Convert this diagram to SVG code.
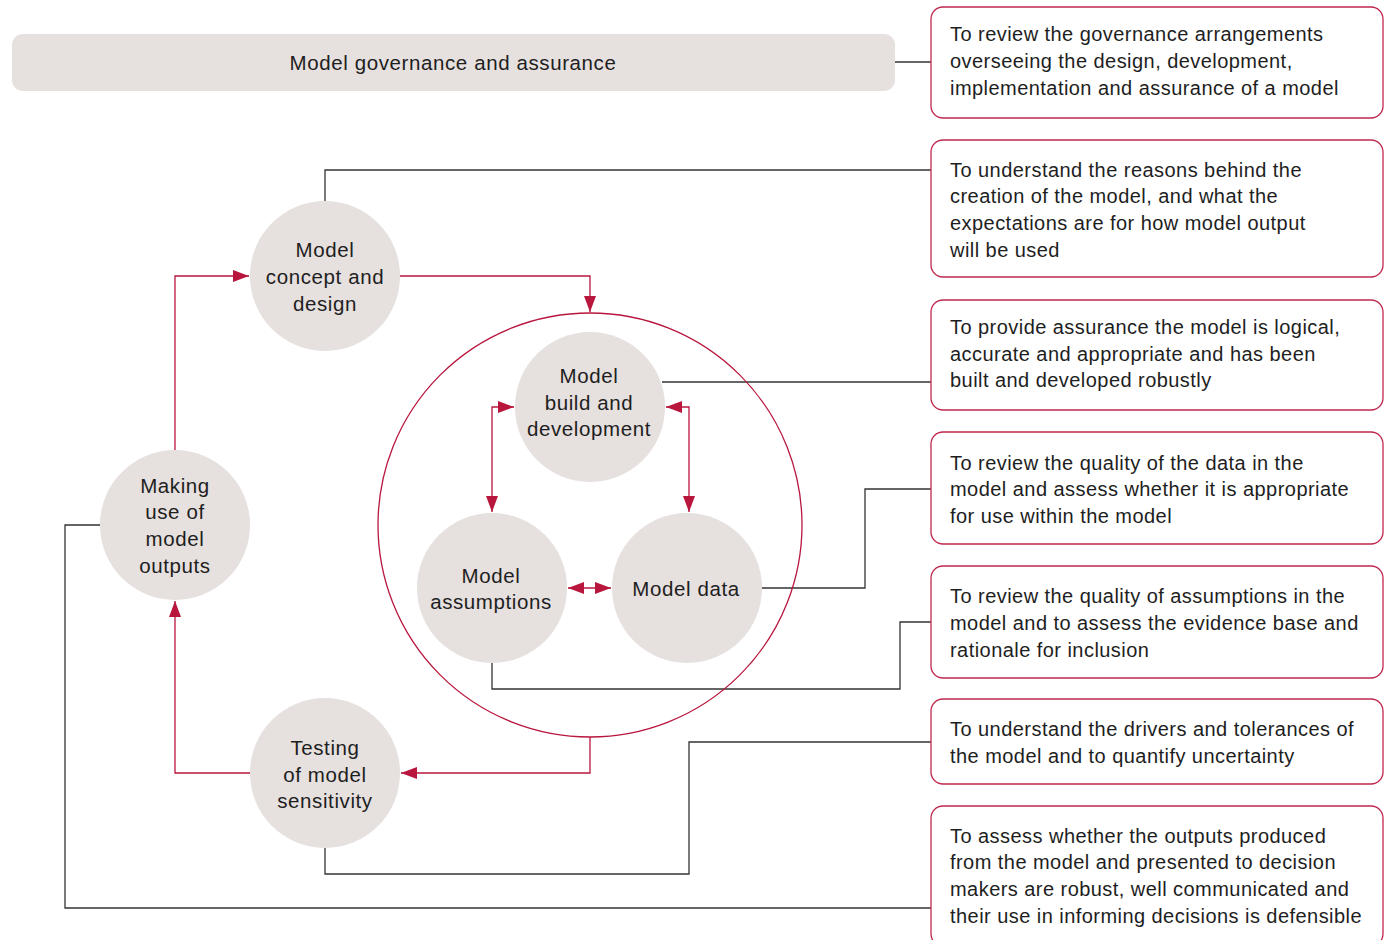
<svg xmlns="http://www.w3.org/2000/svg" width="1390" height="940" viewBox="0 0 1390 940">
  <style>
    text { font-family: "Liberation Sans", Arial, sans-serif; font-size: 20px; fill: #1e1e1e; letter-spacing: 0.45px; }
    .mid { text-anchor: middle; }
    .lbl { font-size: 20.5px; letter-spacing: 0.6px; }
    .node { fill: #e6e0df; }
    .box { fill: #fff; stroke: #c0284d; stroke-width: 1.3; }
    .link { fill: none; stroke: #333; stroke-width: 1.3; }
    .flow { fill: none; stroke: #b8163d; stroke-width: 1.3; }
  </style>
  <defs>
    <marker id="head" viewBox="0 0 16 12" refX="16" refY="6" markerWidth="16" markerHeight="12" markerUnits="userSpaceOnUse" orient="auto-start-reverse">
      <path d="M0 0 L16 6 L0 12 Z" fill="#b8163d"/>
    </marker>
  </defs>

  <rect width="1390" height="940" fill="#fff"/>

  <!-- connectors -->
  <g id="connectors">
    <!-- description leaders -->
    <path class="link" d="M895 62 H931"/>
    <path class="link" d="M325 201 V170 H931"/>
    <path class="link" d="M662 382 H931"/>
    <path class="link" d="M762 588 H865 V489 H931"/>
    <path class="link" d="M492 663 V689 H900 V622 H931"/>
    <path class="link" d="M325 848 V874 H689 V742 H931"/>
    <path class="link" d="M100 525 H65 V908 H931"/>
    <!-- process flow -->
    <path class="flow" d="M400 276 H590 V312" marker-end="url(#head)"/>
    <path class="flow" d="M590 737 V773 H401" marker-end="url(#head)"/>
    <path class="flow" d="M250 773 H175 V601" marker-end="url(#head)"/>
    <path class="flow" d="M175 450 V276 H249" marker-end="url(#head)"/>
    <path class="flow" d="M492 512 V407 H514" marker-start="url(#head)" marker-end="url(#head)"/>
    <path class="flow" d="M666 407 H689 V512" marker-start="url(#head)" marker-end="url(#head)"/>
    <path class="flow" d="M568 588 H611" marker-start="url(#head)" marker-end="url(#head)"/>
  </g>

  <!-- governance bar -->
  <g id="governance">
    <rect class="node" x="12" y="34" width="883" height="57" rx="11"/>
    <text class="mid lbl" x="453" y="70">Model governance and assurance</text>
  </g>

  <!-- enclosing core circle -->
  <g id="core">
    <circle cx="590" cy="525" r="212" fill="none" stroke="#b8163d" stroke-width="1.3"/>
  </g>

  <g id="concept">
    <circle class="node" cx="325" cy="276" r="75"/>
    <text class="mid lbl" x="325" y="257">Model</text>
    <text class="mid lbl" x="325" y="284">concept and</text>
    <text class="mid lbl" x="325" y="311">design</text>
  </g>

  <g id="use">
    <circle class="node" cx="175" cy="525" r="75"/>
    <text class="mid lbl" x="175" y="493">Making</text>
    <text class="mid lbl" x="175" y="519">use of</text>
    <text class="mid lbl" x="175" y="546">model</text>
    <text class="mid lbl" x="175" y="573">outputs</text>
  </g>

  <g id="testing">
    <circle class="node" cx="325" cy="773" r="75"/>
    <text class="mid lbl" x="325" y="755">Testing</text>
    <text class="mid lbl" x="325" y="782">of model</text>
    <text class="mid lbl" x="325" y="808">sensitivity</text>
  </g>

  <g id="build">
    <circle class="node" cx="590" cy="407" r="75"/>
    <text class="mid lbl" x="589" y="383">Model</text>
    <text class="mid lbl" x="589" y="410">build and</text>
    <text class="mid lbl" x="589" y="436">development</text>
  </g>

  <g id="assumptions">
    <circle class="node" cx="492" cy="588" r="75"/>
    <text class="mid lbl" x="491" y="583">Model</text>
    <text class="mid lbl" x="491" y="609">assumptions</text>
  </g>

  <g id="data">
    <circle class="node" cx="687" cy="588" r="75"/>
    <text class="mid lbl" x="686" y="596">Model data</text>
  </g>

  <!-- description boxes -->
  <g id="desc-governance">
    <rect class="box" x="931" y="7" width="452" height="111" rx="12"/>
    <text x="950" y="41">To review the governance arrangements</text>
    <text x="950" y="68">overseeing the design, development,</text>
    <text x="950" y="95">implementation and assurance of a model</text>
  </g>

  <g id="desc-concept">
    <rect class="box" x="931" y="140" width="452" height="137" rx="12"/>
    <text x="950" y="177">To understand the reasons behind the</text>
    <text x="950" y="203">creation of the model, and what the</text>
    <text x="950" y="230">expectations are for how model output</text>
    <text x="950" y="257">will be used</text>
  </g>

  <g id="desc-build">
    <rect class="box" x="931" y="300" width="452" height="110" rx="12"/>
    <text x="950" y="334">To provide assurance the model is logical,</text>
    <text x="950" y="361">accurate and appropriate and has been</text>
    <text x="950" y="387">built and developed robustly</text>
  </g>

  <g id="desc-data">
    <rect class="box" x="931" y="432" width="452" height="112" rx="12"/>
    <text x="950" y="470">To review the quality of the data in the</text>
    <text x="950" y="496">model and assess whether it is appropriate</text>
    <text x="950" y="523">for use within the model</text>
  </g>

  <g id="desc-assumptions">
    <rect class="box" x="931" y="566" width="452" height="112" rx="12"/>
    <text x="950" y="603">To review the quality of assumptions in the</text>
    <text x="950" y="630">model and to assess the evidence base and</text>
    <text x="950" y="657">rationale for inclusion</text>
  </g>

  <g id="desc-testing">
    <rect class="box" x="931" y="699" width="452" height="85" rx="12"/>
    <text x="950" y="736">To understand the drivers and tolerances of</text>
    <text x="950" y="763">the model and to quantify uncertainty</text>
  </g>

  <g id="desc-use">
    <rect class="box" x="931" y="806" width="452" height="140" rx="12"/>
    <text x="950" y="843">To assess whether the outputs produced</text>
    <text x="950" y="869">from the model and presented to decision</text>
    <text x="950" y="896">makers are robust, well communicated and</text>
    <text x="950" y="923">their use in informing decisions is defensible</text>
  </g>
</svg>
